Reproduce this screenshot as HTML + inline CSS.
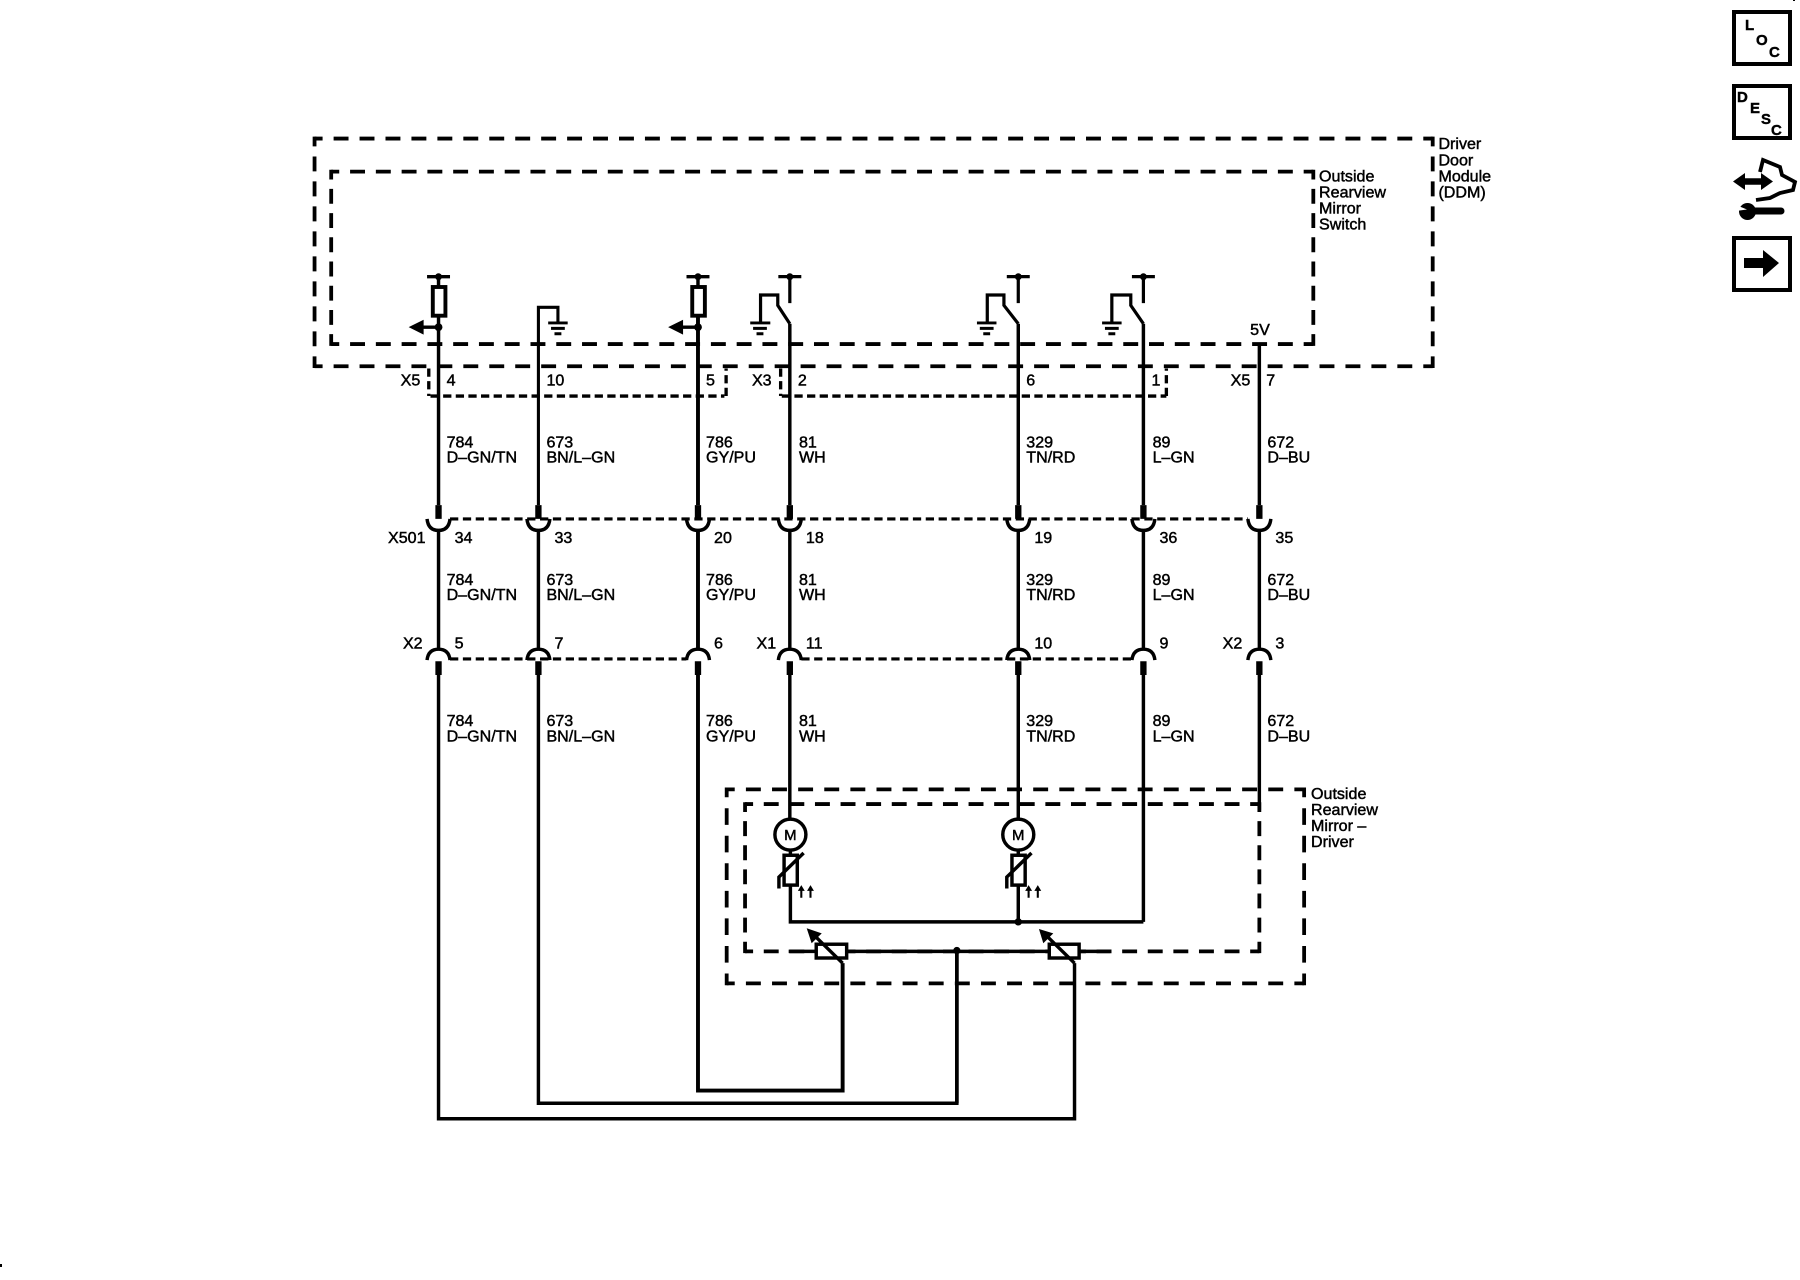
<!DOCTYPE html>
<html><head><meta charset="utf-8"><style>
html,body{margin:0;padding:0;background:#fff}
svg{display:block}
text{font-family:"Liberation Sans",sans-serif;font-size:14px;fill:#000;stroke:#000;stroke-width:.4}
</style></head><body>
<svg xmlns="http://www.w3.org/2000/svg" width="1800" height="1280" viewBox="0 0 1800 1280">
<rect width="1800" height="1280" fill="#fff"/>
<g transform="scale(1.148)">
<g fill="none" stroke="#000">
<!-- dashed boxes -->
<g stroke-width="3.300" stroke-dashoffset="6">
<path d="M274 120.700H1248M274 319H1248" stroke-dasharray="13 9.600"/>
<path d="M274 119V320.600M1248 119V320.600" stroke-dasharray="13 8.770" stroke-dashoffset="4.500"/>
<path d="M288.500 149.500H1144M288.500 299.700H1144" stroke-dasharray="13 9.450"/>
<path d="M288.500 147.900V301.300M1144 147.900V301.300" stroke-dasharray="13 8.100" stroke-dashoffset="4.500"/>
<path d="M633 687.600H1136M633 856.600H1136" stroke-dasharray="13 9.750"/>
<path d="M633 686V858.200M1136 686V858.200" stroke-dasharray="14.500 9.500" stroke-dashoffset="6"/>
<path d="M649 700.400H1097M649 828.700H1097" stroke-dasharray="13 9.300"/>
<path d="M649 698.800V830.300M1097 698.800V830.300" stroke-dasharray="13 8" stroke-dashoffset="4.500"/>
</g>
<!-- connector dashed -->
<path d="M373.500 321V345M375 345H631M632.500 345V321" stroke-width="2.900" stroke-dasharray="7.200 3.800"/>
<path d="M680 321V345M681 345H1016M1016 345V321" stroke-width="2.900" stroke-dasharray="7.200 3.800"/>
<path d="M392 452H1087" stroke-width="2.700" stroke-dasharray="7.200 4"/>
<path d="M392 574H598M698 574H986" stroke-width="2.700" stroke-dasharray="7.200 4"/>
<!-- wires -->
<g stroke-width="3">
<path d="M382 250V440M382 462V566M382 587V974.500H936V839"/>
<path d="M469 440V267.700H486V281" stroke-width="2.700"/>
<path d="M469 462V566M469 587V961H833.500V828"/>
<path d="M608 250V440M608 462V566M608 587V950H734V839" stroke-width="3.400"/>
<path d="M688 282V440M688 462V566M688 587V714"/>
<path d="M887 282V440M887 462V566M887 587V714"/>
<path d="M996 282V440M996 462V566M996 587V803"/>
<path d="M1097 299V440M1097 462V566M1097 587V705.500"/>
</g>
<!-- stubs -->
<path d="M382 440V452M469 440V452M608 440V452M688 440V452M887 440V452M996 440V452M1097 440V452M382 576V588M469 576V588M608 576V588M688 576V588M887 576V588M996 576V588M1097 576V588" stroke-width="5.500"/>
<!-- cups -->
<g stroke-width="3">
<path d="M372 452Q373 462 382 462Q391 462 392 452"/><path d="M459 452Q460 462 469 462Q478 462 479 452"/><path d="M598 452Q599 462 608 462Q617 462 618 452"/><path d="M678 452Q679 462 688 462Q697 462 698 452"/><path d="M877 452Q878 462 887 462Q896 462 897 452"/><path d="M986 452Q987 462 996 462Q1005 462 1006 452"/><path d="M1087 452Q1088 462 1097 462Q1106 462 1107 452"/>
<path d="M372 575Q373 565.500 382 565.500Q391 565.500 392 575"/><path d="M459 575Q460 565.500 469 565.500Q478 565.500 479 575"/><path d="M598 575Q599 565.500 608 565.500Q617 565.500 618 575"/><path d="M678 575Q679 565.500 688 565.500Q697 565.500 698 575"/><path d="M877 575Q878 565.500 887 565.500Q896 565.500 897 575"/><path d="M986 575Q987 565.500 996 565.500Q1005 565.500 1006 575"/><path d="M1087 575Q1088 565.500 1097 565.500Q1106 565.500 1107 575"/>
</g>
<!-- pull up resistors -->
<g stroke-width="3">
<path d="M372 241H392M382 241V250"/><path d="M382 285H366"/>
<path d="M598 241H618M608 241V250"/><path d="M608 285H592"/>
</g>
<rect x="377" y="250" width="11" height="25" fill="#fff" stroke-width="3.400"/>
<rect x="603" y="250" width="11" height="25" fill="#fff" stroke-width="3.400"/>
<!-- switches -->
<g stroke-width="2.800">
<path d="M678 241H698M688 241V264M662.500 281V257H677.500V266L688 282"/>
<path d="M877 241H897M887 241V264M860 281V257H874.500V266L887 282"/>
<path d="M986 241H1006M996 241V264M968.500 281V257H985V266L996 282"/>
</g>
<!-- grounds -->
<g stroke-width="2.600">
<path d="M477.500 281.300H494.500M480 286H492M483 290.700H489"/>
<path d="M653.500 281.300H671M656 286H668M659 290.700H665"/>
<path d="M851 281.300H868M853.500 286H865.500M856.500 290.700H862.500"/>
<path d="M960 281.300H977M962.500 286H974.500M965.500 290.700H971.500"/>
</g>
<!-- motors -->
<g stroke-width="3">
<circle cx="688.500" cy="727" r="13.500" fill="#fff"/><circle cx="887" cy="727" r="13.500" fill="#fff"/>
<path d="M688.500 740.500V745M688.500 771V803H996M887 740.500V745M887 771V803"/>
<rect x="683" y="745" width="11.500" height="26" fill="#fff"/><rect x="881.500" y="745" width="11.500" height="26" fill="#fff"/>
<path d="M678.500 774V764L700 743M877 774V764L898.500 743"/>
</g>
<!-- small arrows -->
<path d="M698 782V773M706 782V773M896 782V773M904 782V773" stroke-width="1.800"/>
<!-- lower resistors -->
<path d="M687 828.700H967" stroke-width="3"/>
<path d="M833.500 828V961" stroke-width="3.200"/>
<rect x="711" y="822.500" width="26.500" height="12" fill="#fff" stroke-width="3"/>
<rect x="914" y="822.500" width="26" height="12" fill="#fff" stroke-width="3"/>
<path d="M734 839L710 815.500M936 839L912 815.500" stroke-width="3"/>
</g>
<g fill="#000">
<circle cx="382" cy="241" r="3"/><circle cx="608" cy="241" r="3"/><circle cx="688" cy="241" r="3"/><circle cx="887" cy="241" r="3"/><circle cx="996" cy="241" r="3"/>
<circle cx="382" cy="285" r="3.400"/><circle cx="608" cy="285" r="3.400"/>
<path d="M356 285L369 278.500V291.500Z"/><path d="M582 285L595 278.500V291.500Z"/>
<circle cx="887" cy="803" r="3.200"/><circle cx="833.500" cy="828" r="3.200"/>
<path d="M702.700 808.600L715.800 813L707 821.700Z"/><path d="M905 809.200L917.500 813L908.800 821.700Z"/>
<path d="M698 771L701 776H695ZM706 771L709 776H703ZM896 771L899 776H893ZM904 771L907 776H901Z"/>
</g>
<!-- labels -->
<text x="349" y="336">X5</text><text x="389" y="336">4</text><text x="476" y="336">10</text><text x="615" y="336">5</text><text x="655" y="336">X3</text><text x="695" y="336">2</text><text x="894" y="336">6</text><text x="1003" y="336">1</text><text x="1072" y="336">X5</text><text x="1103" y="336">7</text>
<text x="1089" y="292">5V</text>
<text x="389" y="390">784</text><text x="389" y="403">D–GN/TN</text><text x="476" y="390">673</text><text x="476" y="403">BN/L–GN</text><text x="615" y="390">786</text><text x="615" y="403">GY/PU</text><text x="696" y="390">81</text><text x="696" y="403">WH</text><text x="894" y="390">329</text><text x="894" y="403">TN/RD</text><text x="1004" y="390">89</text><text x="1004" y="403">L–GN</text><text x="1104" y="390">672</text><text x="1104" y="403">D–BU</text>
<text x="338" y="473">X501</text><text x="396" y="473">34</text><text x="483" y="473">33</text><text x="622" y="473">20</text><text x="702" y="473">18</text><text x="901" y="473">19</text><text x="1010" y="473">36</text><text x="1111" y="473">35</text>
<text x="389" y="509.500">784</text><text x="389" y="522.500">D–GN/TN</text><text x="476" y="509.500">673</text><text x="476" y="522.500">BN/L–GN</text><text x="615" y="509.500">786</text><text x="615" y="522.500">GY/PU</text><text x="696" y="509.500">81</text><text x="696" y="522.500">WH</text><text x="894" y="509.500">329</text><text x="894" y="522.500">TN/RD</text><text x="1004" y="509.500">89</text><text x="1004" y="522.500">L–GN</text><text x="1104" y="509.500">672</text><text x="1104" y="522.500">D–BU</text>
<text x="351" y="565">X2</text><text x="396" y="565">5</text><text x="483" y="565">7</text><text x="622" y="565">6</text><text x="659" y="565">X1</text><text x="702" y="565">11</text><text x="901" y="565">10</text><text x="1010" y="565">9</text><text x="1065" y="565">X2</text><text x="1111" y="565">3</text>
<text x="389" y="632.500">784</text><text x="389" y="646">D–GN/TN</text><text x="476" y="632.500">673</text><text x="476" y="646">BN/L–GN</text><text x="615" y="632.500">786</text><text x="615" y="646">GY/PU</text><text x="696" y="632.500">81</text><text x="696" y="646">WH</text><text x="894" y="632.500">329</text><text x="894" y="646">TN/RD</text><text x="1004" y="632.500">89</text><text x="1004" y="646">L–GN</text><text x="1104" y="632.500">672</text><text x="1104" y="646">D–BU</text>
<text x="1253" y="130">Driver</text><text x="1253" y="144">Door</text><text x="1253" y="158">Module</text><text x="1253" y="172">(DDM)</text>
<text x="1149" y="158">Outside</text><text x="1149" y="172">Rearview</text><text x="1149" y="186">Mirror</text><text x="1149" y="200">Switch</text>
<text x="1142" y="696">Outside</text><text x="1142" y="710">Rearview</text><text x="1142" y="724">Mirror –</text><text x="1142" y="738">Driver</text>
<text x="683" y="731.500" style="font-size:13px">M</text><text x="881.500" y="731.500" style="font-size:13px">M</text>
</g>
<!-- icons -->
<g fill="none" stroke="#000" stroke-width="4">
<rect x="1734" y="12" width="56" height="52"/>
<rect x="1734" y="86" width="56" height="52"/>
<rect x="1734" y="238" width="56" height="52"/>
<path d="M1760 172L1763 160L1780 167L1782 175L1795 182L1793 190L1780 193L1770 198L1756 200" stroke-width="3.800"/>
<path d="M1750 211H1781" stroke-width="7" stroke-linecap="round"/>
<path d="M1742 181.500H1768" stroke-width="6.500"/>
</g>
<g fill="#000">
<path d="M1733 181.500L1745 173V190ZM1773 181.500L1761 173V190Z"/>
<circle cx="1747.500" cy="211.500" r="8.500"/>
<path d="M1736 205L1747 209.500L1736 211Z" fill="#fff"/>
<path d="M1744 258H1763V250L1779 263L1763 277V268H1744Z"/>
<rect x="0" y="1264" width="2" height="3"/>
<rect x="1793" y="0" width="2" height="1"/>
</g>
<text x="1745" y="30" style="font-size:15px;font-weight:bold">L</text><text x="1756" y="45" style="font-size:15px;font-weight:bold">O</text><text x="1769" y="57" style="font-size:15px;font-weight:bold">C</text>
<text x="1737" y="102" style="font-size:15px;font-weight:bold">D</text><text x="1750" y="113" style="font-size:15px;font-weight:bold">E</text><text x="1761" y="124" style="font-size:15px;font-weight:bold">S</text><text x="1771" y="135" style="font-size:15px;font-weight:bold">C</text>
</svg>
</body></html>
